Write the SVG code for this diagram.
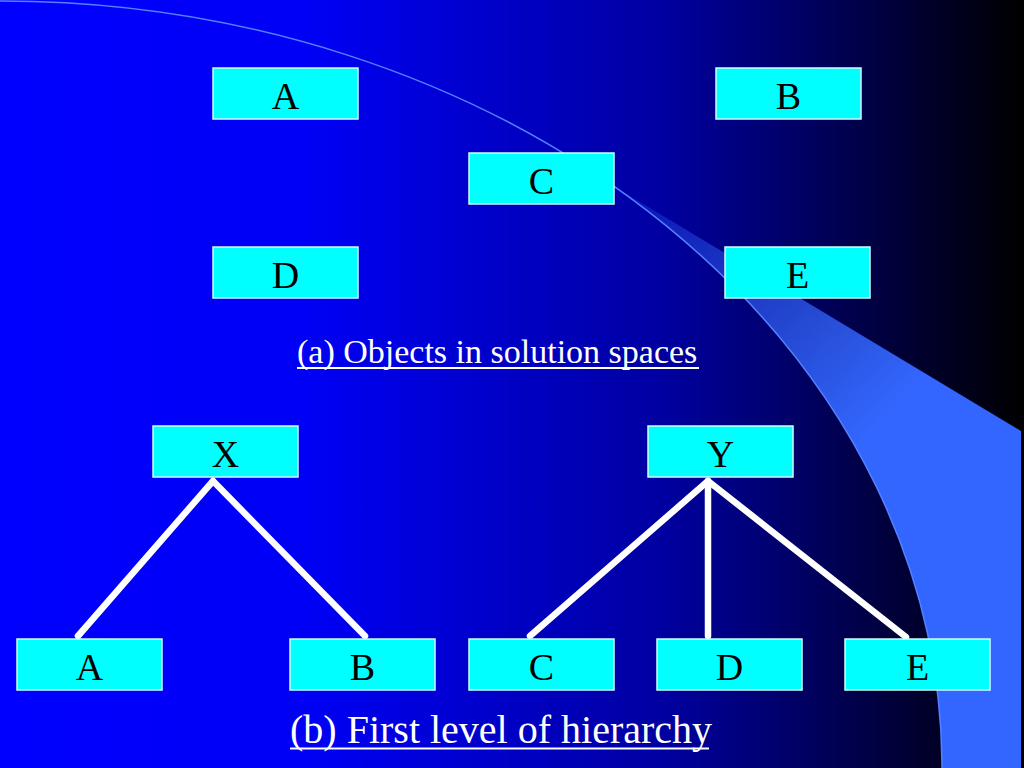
<svg xmlns="http://www.w3.org/2000/svg" width="1024" height="768" viewBox="0 0 1024 768">
  <defs>
    <linearGradient id="bg" x1="0" y1="0" x2="1" y2="0">
      <stop offset="0" stop-color="#0000FF"/>
      <stop offset="0.3" stop-color="#0000F6"/>
      <stop offset="0.65" stop-color="#0000A0"/>
      <stop offset="1" stop-color="#000000"/>
    </linearGradient>
    <linearGradient id="wedge" gradientUnits="userSpaceOnUse" x1="615" y1="187" x2="870" y2="430">
      <stop offset="0" stop-color="#3366FF" stop-opacity="0.15"/>
      <stop offset="0.5" stop-color="#3366FF" stop-opacity="0.6"/>
      <stop offset="1" stop-color="#3366FF" stop-opacity="1"/>
    </linearGradient>
    <style>
      .box { fill: #00FFFF; stroke: #CCFFFF; stroke-width: 1.5; }
      .lbl { font-family: "Liberation Serif", "Times New Roman", serif; font-size: 38px; fill: #000000; text-anchor: middle; }
      .cap { font-family: "Liberation Serif", "Times New Roman", serif; fill: #FFFFFF; }
      .uline { stroke: #FFFFFF; stroke-width: 2; }
      .edge { stroke: #FFFFFF; stroke-width: 6.5; stroke-linecap: round; fill: none; }
    </style>
  </defs>

  <rect x="0" y="0" width="1024" height="768" fill="url(#bg)"/>
  <path d="M 615 187 L 1021 431 L 1021 768 L 942 768 A 942 767 0 0 0 615 187 Z" fill="url(#wedge)"/>
  <path d="M 0 1 A 942 767 0 0 1 942 768" fill="none" stroke="#5580FF" stroke-width="1.5"/>

  <g id="connectors">
    <line class="edge" x1="213" y1="481" x2="78" y2="636"/>
    <line class="edge" x1="213" y1="481" x2="365" y2="636"/>
    <line class="edge" x1="708" y1="481" x2="530" y2="636"/>
    <line class="edge" x1="708" y1="481" x2="708" y2="636"/>
    <line class="edge" x1="708" y1="481" x2="906" y2="637"/>
  </g>

  <g id="node-a-top"><rect class="box" x="213" y="68" width="145" height="51"/><text class="lbl" x="285.5" y="109">A</text></g>
  <g id="node-b-top"><rect class="box" x="716" y="68" width="145" height="51"/><text class="lbl" x="788.5" y="109">B</text></g>
  <g id="node-c-top"><rect class="box" x="469" y="153" width="145" height="51"/><text class="lbl" x="541.5" y="194">C</text></g>
  <g id="node-d-top"><rect class="box" x="213" y="247" width="145" height="51"/><text class="lbl" x="285.5" y="288">D</text></g>
  <g id="node-e-top"><rect class="box" x="725" y="247" width="145" height="51"/><text class="lbl" x="797.5" y="288">E</text></g>

  <g id="caption-a">
    <text class="cap" x="297" y="363" font-size="34">(a) Objects in solution spaces</text>
    <line class="uline" x1="297" y1="368" x2="699" y2="368"/>
  </g>

  <g id="node-x"><rect class="box" x="153" y="426" width="145" height="51"/><text class="lbl" x="225.5" y="467">X</text></g>
  <g id="node-y"><rect class="box" x="648" y="426" width="145" height="51"/><text class="lbl" x="720.5" y="467">Y</text></g>

  <g id="node-a-bottom"><rect class="box" x="17" y="639" width="145" height="51"/><text class="lbl" x="89.5" y="680">A</text></g>
  <g id="node-b-bottom"><rect class="box" x="290" y="639" width="145" height="51"/><text class="lbl" x="362.5" y="680">B</text></g>
  <g id="node-c-bottom"><rect class="box" x="469" y="639" width="145" height="51"/><text class="lbl" x="541.5" y="680">C</text></g>
  <g id="node-d-bottom"><rect class="box" x="657" y="639" width="145" height="51"/><text class="lbl" x="729.5" y="680">D</text></g>
  <g id="node-e-bottom"><rect class="box" x="845" y="639" width="145" height="51"/><text class="lbl" x="917.5" y="680">E</text></g>

  <g id="caption-b">
    <text class="cap" x="290" y="743" font-size="40">(b) First level of hierarchy</text>
    <line class="uline" x1="290" y1="748.5" x2="709" y2="748.5"/>
  </g>
</svg>
